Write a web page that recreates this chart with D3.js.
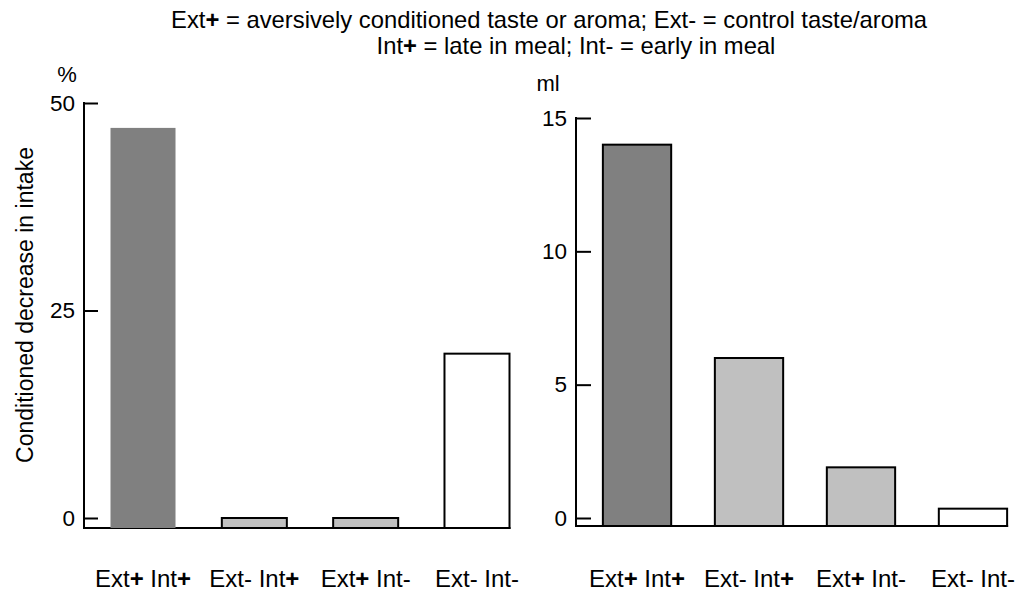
<!DOCTYPE html>
<html>
<head>
<meta charset="utf-8">
<script src="https://cdn.jsdelivr.net/npm/d3@7"></script>
<style>
  body { margin: 0; background: #fff; }
  svg { display: block; font-family: "Liberation Sans", Arial, sans-serif; }
</style>
</head>
<body>
<div id="chart"></div>
<script>
// data
const categories = ["Ext+ Int+", "Ext- Int+", "Ext+ Int-", "Ext- Int-"];
const pctValues = [47, 0, 0, 19.8];
const mlValues = [14, 6, 1.9, 0.35];
const pctTicks = [0, 25, 50];
const mlTicks = [0, 5, 10, 15];
const barFills = ["#808080", "#c0c0c0", "#c0c0c0", "#ffffff"];
const titleLines = [
  "Ext+ = aversively conditioned taste or aroma; Ext- = control taste/aroma",
  "Int+ = late in meal; Int- = early in meal"
];
const yLabel = "Conditioned decrease in intake";

const width = 1027, height = 594;

const svg = d3.select("#chart").append("svg")
  .attr("width", width)
  .attr("height", height);

// text with bold "+" signs
function plusText(sel, str) {
  str.split(/(\+)/).filter(s => s.length).forEach(part => {
    sel.append("tspan")
      .attr("font-weight", part === "+" ? "bold" : null)
      .text(part);
  });
}

// title
const titlePos = [{x: 549, y: 28}, {x: 576, y: 54}];
titleLines.forEach((line, i) => {
  const t = svg.append("text")
    .attr("x", titlePos[i].x)
    .attr("y", titlePos[i].y)
    .attr("text-anchor", "middle")
    .attr("font-size", 23.8)
    .attr("fill", "#000");
  plusText(t, line);
});

// y label (left)
svg.append("text")
  .attr("transform", "translate(33,305) rotate(-90)")
  .attr("text-anchor", "middle")
  .attr("font-size", 23)
  .text(yLabel);

function drawPanel(opt) {
  const y = d3.scaleLinear().domain(opt.domain).range([518, opt.top]);
  const x = d3.scaleBand()
    .domain(categories)
    .range([opt.axisX, opt.right])
    .paddingInner(opt.padIn)
    .paddingOuter(opt.padOut);
  const base = y(0) + opt.gap;

  const g = svg.append("g");

  // unit label
  g.append("text")
    .attr("x", opt.unitX)
    .attr("y", opt.unitY)
    .attr("text-anchor", "middle")
    .attr("font-size", 22)
    .text(opt.unit);

  // axis
  const axis = d3.axisLeft(y)
    .tickValues(opt.ticks)
    .tickSizeInner(-opt.tickLen)
    .tickSizeOuter(0)
    .tickPadding(9)
    .tickFormat(d3.format("d"));
  const ax = g.append("g")
    .attr("transform", `translate(${opt.axisX},0)`)
    .call(axis);
  ax.select(".domain").remove();
  ax.selectAll(".tick line").attr("stroke", "#000").attr("stroke-width", 2);
  ax.selectAll(".tick text")
    .attr("font-size", 22.5)
    .attr("font-family", "Liberation Sans, Arial, sans-serif")
    .attr("fill", "#000");

  g.append("line")
    .attr("x1", opt.axisX).attr("x2", opt.axisX)
    .attr("y1", y(opt.domain[1]) - 1).attr("y2", base)
    .attr("stroke", "#000").attr("stroke-width", 2);

  // baseline
  g.append("line")
    .attr("x1", opt.axisX - 1)
    .attr("x2", x(categories[categories.length - 1]) + x.bandwidth() + 1)
    .attr("y1", base).attr("y2", base)
    .attr("stroke", "#000").attr("stroke-width", 2);

  // bars
  g.selectAll("rect.bar")
    .data(opt.values)
    .join("rect")
    .attr("class", "bar")
    .attr("x", (d, i) => x(categories[i]))
    .attr("width", x.bandwidth())
    .attr("y", d => y(d))
    .attr("height", d => base - y(d))
    .attr("fill", (d, i) => barFills[i])
    .attr("stroke", (d, i) => opt.stroked[i] ? "#000" : "none")
    .attr("stroke-width", 2);

  // category labels
  categories.forEach(c => {
    const t = g.append("text")
      .attr("x", x(c) + x.bandwidth() / 2)
      .attr("y", 587)
      .attr("text-anchor", "middle")
      .attr("font-size", 24);
    plusText(t, c);
  });
}

drawPanel({
  values: pctValues, domain: [0, 50], ticks: pctTicks, top: 103,
  axisX: 84, right: 536, padIn: 0.416, padOut: 0.238, gap: 10,
  tickLen: 14, unit: "%", unitX: 67, unitY: 82,
  stroked: [false, true, true, true]
});

drawPanel({
  values: mlValues, domain: [0, 15], ticks: mlTicks, top: 118,
  axisX: 576, right: 1034, padIn: 0.39, padOut: 0.24, gap: 8,
  tickLen: 15, unit: "ml", unitX: 548, unitY: 91,
  stroked: [true, true, true, true]
});
</script>
</body>
</html>
